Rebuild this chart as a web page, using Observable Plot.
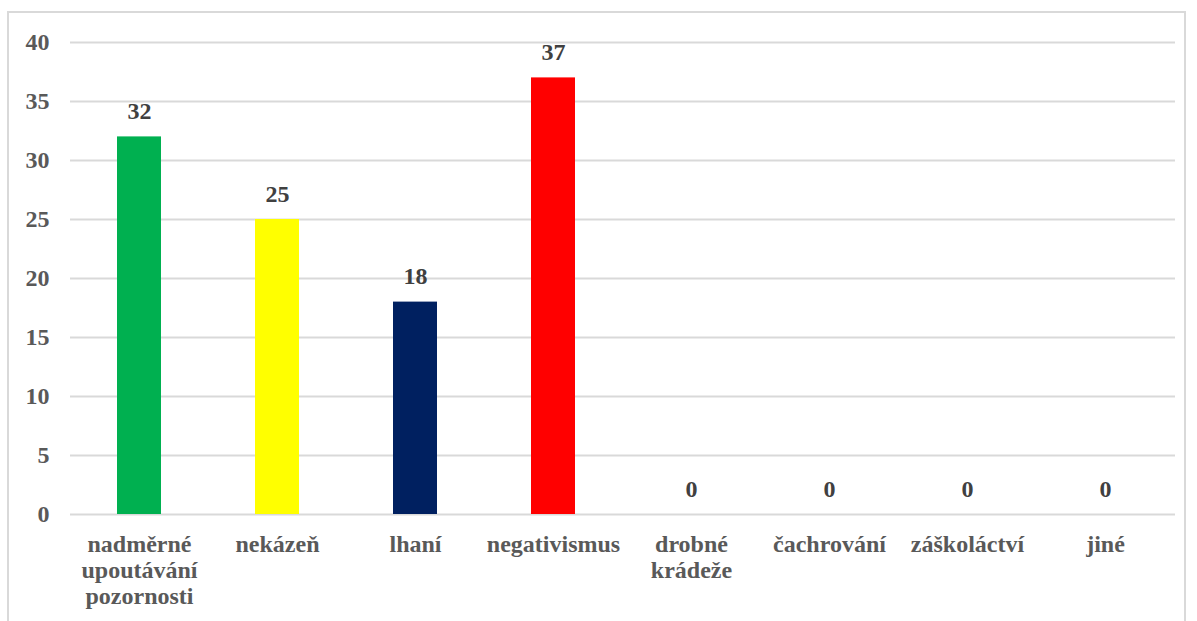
<!DOCTYPE html>
<html>
<head>
<meta charset="utf-8">
<script src="https://cdn.jsdelivr.net/npm/d3@7"></script>
<script src="https://cdn.jsdelivr.net/npm/@observablehq/plot@0.6"></script>
<style>
  html, body { margin: 0; padding: 0; background: #fff; }
  #wrap { position: relative; width: 1197px; height: 621px; overflow: hidden; }
  #frame { position: absolute; left: 7px; top: 11px; width: 1179px; height: 640px; border: 2px solid #d9d9d9; box-sizing: border-box; }
  #chart { position: absolute; left: 0; top: 0; }
</style>
</head>
<body>
<div id="wrap"><div id="frame"></div><div id="chart"></div></div>
<script>
const categories = ["nadměrné upoutávání pozornosti", "nekázeň", "lhaní", "negativismus", "drobné krádeže", "čachrování", "záškoláctví", "jiné"];
const tickLabels = ["nadměrné\nupoutávání\npozornosti", "nekázeň", "lhaní", "negativismus", "drobné\nkrádeže", "čachrování", "záškoláctví", "jiné"];
const values = [32, 25, 18, 37, 0, 0, 0, 0];
const colors = ["#00B050", "#FFFF00", "#002060", "#FF0000", "#5B9BD5", "#ED7D31", "#A5A5A5", "#FFC000"];
const yTicks = [0, 5, 10, 15, 20, 25, 30, 35, 40];

const data = categories.map((c, i) => ({cat: c, value: values[i], color: colors[i]}));
const labelOf = new Map(categories.map((c, i) => [c, tickLabels[i]]));
const FONT = "Liberation Serif";

const chart = Plot.plot({
  width: 1197,
  height: 621,
  marginTop: 42,
  marginBottom: 107,
  marginLeft: 70,
  marginRight: 22,
  style: "background: transparent; font-family: 'Liberation Serif', serif; font-weight: bold;",
  x: {domain: categories, paddingInner: 0.68, paddingOuter: 0.34, label: null},
  y: {domain: [0, 40], label: null},
  marks: [
    Plot.gridY(yTicks, {stroke: "#d9d9d9", strokeOpacity: 1, strokeWidth: 2}),
    Plot.barY(data, {x: "cat", y: "value", fill: "color"}),
    Plot.text(data, {x: "cat", y: "value", text: d => String(d.value), lineAnchor: "bottom", dy: -18, fill: "#404040", fontSize: 24, fontWeight: "bold", fontFamily: FONT}),
    Plot.axisY(yTicks, {tickSize: 0, tickPadding: 21, fontSize: 24, fontWeight: "bold", fontFamily: FONT, fill: "#595959", label: null}),
    Plot.axisX({tickSize: 0, tickPadding: 19, fontSize: 24, fontWeight: "bold", fontFamily: FONT, fill: "#595959", lineHeight: 1.08, tickFormat: d => labelOf.get(d), label: null})
  ]
});
chart.setAttribute("font-family", "Liberation Serif, serif");
document.getElementById("chart").appendChild(chart);
</script>
</body>
</html>
